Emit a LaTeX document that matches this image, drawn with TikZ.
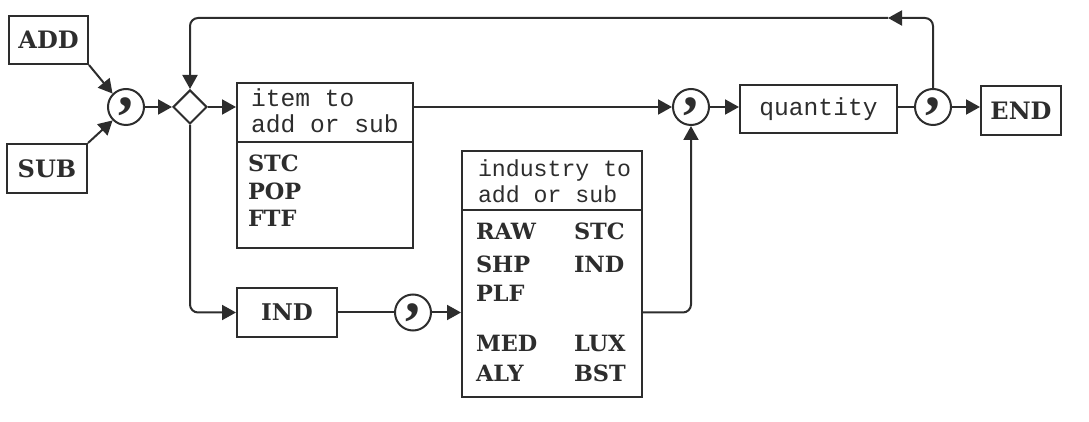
\documentclass[tikz,border=0pt]{standalone}
\usepackage{fontspec}
\usetikzlibrary{arrows.meta,shapes.geometric}
\newfontfamily\labfont{DejaVu Serif}
\newfontfamily\cmfont{Liberation Serif}
\newfontfamily\hdfont{Liberation Mono}
\definecolor{ink}{RGB}{45,45,45}
\begin{document}
\begin{tikzpicture}[x=0.5pt,y=-0.5pt, line width=1pt, draw=ink, text=ink,
  box/.style={draw=ink, rectangle, inner sep=0pt, font=\labfont\bfseries\fontsize{12}{14}\selectfont},
  cnode/.style={draw=ink, circle, minimum size=18pt, inner sep=0pt, font=\cmfont\bfseries\fontsize{30}{30}\selectfont},
  dnode/.style={draw=ink, diamond, minimum width=17pt, minimum height=17pt, inner sep=0pt},
  arr/.style={draw=ink, -{Triangle[length=7pt,width=7.5pt]}},
  conn/.style={draw=ink},
  hd/.style={anchor=base west, inner sep=0pt, font=\hdfont\fontsize{12.3}{14}\selectfont},
  hdn/.style={anchor=base west, inner sep=0pt, font=\hdfont\fontsize{11.6}{14}\selectfont},
  itm/.style={anchor=base west, inner sep=0pt, font=\labfont\bfseries\fontsize{11.2}{13}\selectfont}]
\useasboundingbox (0,0) rectangle (1089,422);

% entry boxes
\node[box, minimum width=39.5pt, minimum height=24pt] (ADD) at (48.5,40) {ADD};
\node[box, minimum width=40pt, minimum height=24.5pt] (SUB) at (47,168.5) {SUB};
\node[cnode] (c1) at (126,107) {\raisebox{1.2pt}{,}};
\node[dnode] (dia) at (190,107) {};

% item box
\node[draw=ink, rectangle, inner sep=0pt, minimum width=88pt, minimum height=82.5pt] (itembox) at (325,165.5) {};
\coordinate (idv) at (0,142);
\draw[conn] (itembox.west |- idv) -- (itembox.east |- idv);
\node[hd] (ih1) at (250,107) {item to};
\node[hd] (ih2) at (250,133) {add or sub};
\node[itm] (i1) at (247,172) {STC};
\node[itm] (i2) at (247,200) {POP};
\node[itm] (i3) at (247,227) {FTF};

% main line right part
\node[cnode] (c2) at (691,107) {\raisebox{1.2pt}{,}};
\node[box, font=\hdfont\fontsize{12.3}{14}\selectfont, minimum width=78.5pt, minimum height=24pt] (qty) at (818.5,109) {quantity};
\node[cnode] (c3) at (933,107) {\raisebox{1.2pt}{,}};
\node[box, minimum width=40pt, minimum height=24.5pt] (END) at (1021,110.5) {END};

% lower branch
\node[box, font=\labfont\bfseries\fontsize{11.5}{13}\selectfont, minimum width=50pt, minimum height=24.5pt] (IND) at (287,312.5) {IND};
\node[cnode] (c4) at (413,312.5) {\raisebox{1.2pt}{,}};
\node[draw=ink, rectangle, inner sep=0pt, minimum width=90pt, minimum height=123pt] (indbox) at (552,274) {};
\coordinate (ndv) at (0,210);
\draw[conn] (indbox.west |- ndv) -- (indbox.east |- ndv);
\node[hdn] (nh1) at (477,177) {industry to};
\node[hdn] (nh2) at (477,203) {add or sub};
\node[itm] (n1) at (475,240) {RAW};
\node[itm] (n2) at (573,240) {STC};
\node[itm] (n3) at (475,273) {SHP};
\node[itm] (n4) at (573,273) {IND};
\node[itm] (n5) at (475,302) {PLF};
\node[itm] (n6) at (475,352) {MED};
\node[itm] (n7) at (573,352) {LUX};
\node[itm] (n8) at (475,382) {ALY};
\node[itm] (n9) at (573,382) {BST};

% connectors
\draw[arr] (ADD.south east) -- (c1.135);
\draw[arr] (SUB.north east) -- (c1.225);
\draw[arr] (c1.east) -- (dia.west);
\draw[arr] (dia.east) -- (dia.east -| itembox.west);
\draw[arr] (c2 -| itembox.east) -- (c2.west);
\draw[arr] (c2.east) -- (c2.east -| qty.west);
\draw[conn] (c3 -| qty.east) -- (c3.west);
\draw[arr] (c3.east) -- (c3.east -| END.west);
\coordinate (tm) at (888,18);
\draw[arr, rounded corners=4pt] (c3.north) |- (tm);
\draw[arr, rounded corners=4pt] (tm) -| (dia.north);
\draw[arr, rounded corners=4pt] (dia.south) |- (IND.west);
\draw[conn] (IND.east) -- (c4.west);
\draw[arr] (c4.east) -- (c4.east -| indbox.west);
\draw[arr, rounded corners=4pt] (c4 -| indbox.east) -| (c2.south);
\end{tikzpicture}
\end{document}
